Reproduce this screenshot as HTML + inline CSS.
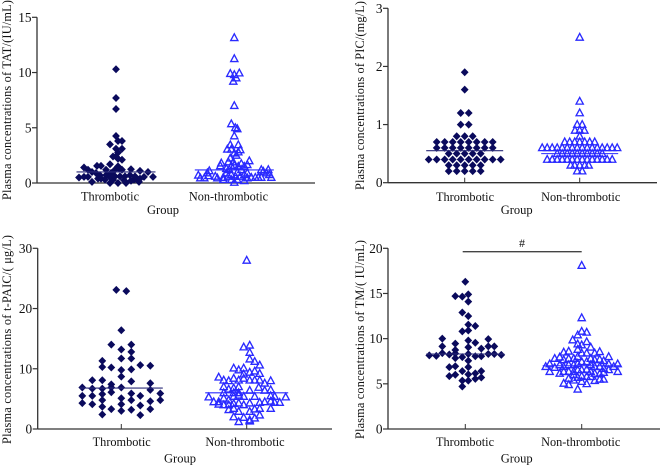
<!DOCTYPE html>
<html>
<head>
<meta charset="utf-8">
<title>Plasma concentrations by group</title>
<style>
html,body{margin:0;padding:0;background:#fff;}
svg{display:block;}
text{font-family:"Liberation Serif","Noto Serif CJK SC",serif;fill:#111;}
</style>
</head>
<body>
<svg id="figure" width="661" height="468" viewBox="0 0 661 468" xmlns="http://www.w3.org/2000/svg">
  <text transform="translate(11,200) rotate(-90)" font-size="12.3" textLength="200" lengthAdjust="spacing">Plasma concentrations of TAT/(IU/mL)</text>
  <text transform="translate(364,190) rotate(-90)" font-size="12.3" textLength="189" lengthAdjust="spacing">Plasma concentrations of PIC/(mg/L)</text>
  <text transform="translate(11,444) rotate(-90)" font-size="12.3" textLength="209" lengthAdjust="spacing">Plasma concentrations of t-PAIC/( μg/L)</text>
  <text transform="translate(364,439) rotate(-90)" font-size="12.3" textLength="199" lengthAdjust="spacing">Plasma concentrations of TM/( IU/mL)</text>
  <text x="163" y="214" font-size="12.5" text-anchor="middle">Group</text>
  <text x="516.7" y="214" font-size="12.5" text-anchor="middle">Group</text>
  <text x="180" y="462.7" font-size="12.5" text-anchor="middle">Group</text>
  <text x="516.7" y="462.7" font-size="12.5" text-anchor="middle">Group</text>
  <line x1="462.7" x2="581.7" y1="251.7" y2="251.7" stroke="#444" stroke-width="1.4"></line>
  <text x="522" y="247" font-size="12" text-anchor="middle">#</text>
</svg>
<script>
// Shared labels
const groupLabels = ["Thrombotic", "Non-thrombotic"];

// TAT panel
const tatTicks = [0, 5, 10, 15];
const tatMeans = [1.0, 1.18];
const tatThromboticValues = [10.3,7.7,6.7,4.25,3.8,3.8,3.5,3.1,3.1,2.75,2.4,2.4,2.2,2.1,1.7,1.5,
  1.4,1.2,1.55,1.55,1,.9,.7,.5,.55,.55,.1,.4,.4,.7,0,.3,.9,1.2,1.3,1.2,0,.6,.6,0,1.25,.7,.3,.1,1.1,.4,.55,1,.55,.6,.55,.3,.6,.25,.2,1.2];
const tatThromboticJitter = [0,0,0,0,2,6,-6,0,6,2,0,-3,2,6,-6,2,
  -32,-28,-19,-15,-24,-20,-16,-37,-32,-28,-24,-18,-15,-10,-6,-3,-5,-1,3,6,2,4,9,10,15,14,18,23,24,24,28,32,37,19,-6,-11,-1,8,15,-10];
const tatControlValues = [13.15,11.25,9.9,9.95,9.8,9.5,9.2,7,5.35,5,4.9,4.25,3.45,3.45,3.05,3.05,3,2.8,2.7,2.5,2.25,1.9,1.9,1.8,1.55,1.75,2,1.65,1.5,1.55,1.6,1.5,
  1.1,.9,.7,.45,.45,.65,.6,.45,.3,.9,1.2,.6,.75,.3,.05,.6,.95,.3,.6,1.2,.75,.2,.9,.45,.5,.5,.5,.5,1.2,1.05,.9,1.2,.75,.5,1.3,.5];
const tatControlJitter = [0,0,-4,5,0,2,-1,0,-3,1,3,0,-4,4,-7,-3,6,4,0,2,-4,-6,-1,-13,-14,7,15,13,10,-3,0,4,
  -25,-27,-36,-34,-30,-26,-19,-17,-11,-8,-5,-6,-3,-3,0,1,3,3,6,7,10,10,13,13,17,21,24,27,27,29,32,34,35,37,-8,-11];

// PIC panel
const picTicks = [0, 1, 2, 3];
const picMeans = [0.55, 0.5];
const picThromboticValues = [1.9,1.6,1.2,1.2,1,1,.8,.8,.8,
  .7,.7,.7,.7,.7,.7,.7,.7,
  .6,.6,.6,.6,.6,.6,.6,.6,
  .5,.5,.5,.5,.5,
  .4,.4,.4,.4,.4,.4,.4,.4,.4,.4,
  .3,.3,.3,.3,.3,
  .2,.2,.2,.2,.2];
const picThromboticJitter = [0,0,-4,4,-4,4,-8,0,8,
  -28,-20,-12,-4,4,12,20,28,
  -28,-20,-12,-4,4,12,20,28,
  -16,-8,0,8,16,
  -36,-28,-20,-12,-4,4,12,20,28,36,
  -16,-8,0,8,16,
  -16,-8,0,8,16];
const picControlValues = [2.5,1.4,1.2,1,1,.9,.9,.9,.8,
  .7,.7,.7,.7,.7,.7,.7,
  .6,.6,.6,.6,.6,.6,.6,.6,.6,.6,.6,.6,.6,.6,.6,.6,
  .5,.5,.5,.5,.5,.5,.5,.5,.5,.5,
  .4,.4,.4,.4,.4,.4,.4,.4,.4,.4,.4,.4,.4,.4,
  .3,.3,.3,.3,.3,
  .2,.2];
const picControlJitter = [0,0,0,-2.5,2.5,-4.7,0,4.7,0,
  -15,-10,-5,0,5,10,15,
  -37.5,-32.5,-27.5,-22.5,-17.5,-12.5,-7.5,-2.5,2.5,7.5,12.5,17.5,22.5,27.5,32.5,37.5,
  -22.5,-17.5,-12.5,-7.5,-2.5,2.5,7.5,12.5,17.5,22.5,
  -32.5,-27.5,-22.5,-17.5,-12.5,-7.5,-2.5,2.5,7.5,12.5,17.5,22.5,27.5,32.5,
  -9,-5,0,5,9,
  -2.5,2.5];

// t-PAIC panel
const tpaicTicks = [0, 10, 20, 30];
const tpaicMeans = [6.8, 6.0];
const tpaicThromboticValues = [23.1,22.9,16.4,14,14,13.2,12.8,11.7,11.7,11.3,10.3,10.2,10.6,10.5,9.8,9.9,8.7,8.1,8.1,7.9,7.4,6.9,7.6,6.9,6.7,6.7,6.9,6.5,6.1,5.9,5.5,5.5,5.8,5.9,5.5,5.1,4.8,4.8,4.6,4.8,4.3,4.1,4.1,3.9,3.7,3.3,3,3.2,3.3,2.4,2.3];
const tpaicThromboticJitter = [-5,5,0,-10,10,0,10,0,10,-19,-19,-10,19,29,0,10,0,-29,-19,10,-10,0,29,-39,-29,-19,-10,29,-10,39,-39,-29,-19,10,19,0,-19,10,29,39,-39,-29,0,19,-19,-10,0,10,29,-19,19];
const tpaicControlValues = [28,13.6,13.9,12.7,11.6,11.2,10.6,10.1,9.8,10.1,9.4,9.6,9.2,9.1,8.6,8.1,8,8.4,8.1,8.4,8.1,8.1,8.1,7.6,8,7,6.6,6.8,7,6,6,6,6.4,6.9,6.4,6.5,5.3,4.5,4.5,5.1,4.8,5.4,5.6,5.4,5.4,5.5,5.4,5.3,4.4,4.4,4.6,4.5,4.4,4,4,4.2,4.3,4,4.3,3.2,3.4,2.9,2.9,3.3,3.4,3.4,2,1.9,1.5,1.8,2.3,1.2,1.3,4.1];
const tpaicControlJitter = [0,-3,3,3,3,8,13,-13,-8,-3,3,8,13,-3,-28,-23,-18,-13,-8,-3,3,8,13,18,24,-23,-18,-13,-8,-23,-13,-8,3,12,18,24,-38,-33,-28,-23,-18,-13,-8,-3,8,24,28,39,33,28,24,18,13,-23,-18,-13,-8,-3,3,-18,-13,-8,3,8,13,24,-13,-3,3,8,13,-8,3,-28];

// TM panel
const tmTicks = [0, 5, 10, 15, 20];
const tmMeans = [8.3, 7.0];
const tmThromboticValues = [16.3,14.7,14.65,14.9,14.1,12.9,12.5,11.55,11.4,10.8,10.9,10,9.45,9.8,9.55,9.95,9.15,8.75,9.05,8.9,9.15,9.15,8.4,8.25,8.35,8.3,8.3,8.3,8.2,8.15,8.1,7.85,7.95,7.55,8.05,8.05,6.85,6.95,6.85,6.4,6.05,6.15,6.4,5.85,6,5.35,5.55,5.7,5.35,4.7];
const tmThromboticJitter = [0,-10,-3,3,3,-3,3,3,10,-3,3,-23,-10,3,10,23,-23,-10,3,16,23,29,-23,-16,-10,3,23,29,36,-36,-29,-10,-3,3,10,16,-16,-10,3,-3,3,10,16,-16,-10,3,10,16,-3,-3];
const tmControlValues = [18.1,12.3,10.8,10.7,10.4,9.85,9.4,9.3,9.65,9.05,8.6,8.4,8.55,8,8.8,8.5,7.95,7.8,7.2,6.9,7.65,7.8,7.8,8,8.4,8.4,7.8,7.65,7.7,7.55,7.2,7.2,6.9,6.35,6.35,6.8,7.1,6.9,7.1,7.1,7.25,7.45,7.45,7.1,6.9,6.9,6.7,6.55,6.15,6.35,6.35,6.35,6.55,6.55,6.6,6.35,6.15,6.1,6.25,5.05,5.6,5.4,5.7,5.25,5,5.8,5.35,5.5,5.5,4.4,5.85,6,5.8,4.9];
const tmControlJitter = [0,0,0,5,-4,-9,-4,0,5,9,-13,13,18,27,-4,-18,-22,-27,-32,-36,-18,-13,-8,-4,0,5,9,13,18,22,27,36,32,36,-32,-27,-22,-18,-13,-8,-4,0,5,9,13,18,22,27,-22,-18,-13,-8,-4,0,5,9,13,18,22,-18,-13,-8,-4,0,5,9,13,18,22,-4,0,-8,5,-13];

const SVG_NS = "http://www.w3.org/2000/svg";
const AXIS_COLOR = "#333";
const DIAMOND_COLOR = "#0a0a5c";
const TRIANGLE_COLOR = "#2a2aff";
const figure = document.getElementById("figure");

function make(tag, attrs) {
  const el = document.createElementNS(SVG_NS, tag);
  Object.keys(attrs).forEach(function (k) { el.setAttribute(k, attrs[k]); });
  figure.appendChild(el);
  return el;
}

function drawPanel(prefix, frame, ticks, means, series) {
  const maxTick = ticks[ticks.length - 1];
  const yScale = function (v) { return frame.y0 - (v / maxTick) * (frame.y0 - frame.yTop); };
  const xScale = function (groupIndex, jitter) { return frame.groups[groupIndex] + jitter; };

  const yAxis = make("line", {x1: frame.x0, x2: frame.x0, y1: frame.yTop, y2: frame.y0, stroke: AXIS_COLOR, "stroke-width": 1.3});
  
  
  const xAxis = make("line", {x1: frame.x0, x2: frame.x1, y1: frame.y0, y2: frame.y0, stroke: AXIS_COLOR, "stroke-width": 1.3});
  
  

  ticks.forEach(function (t) {
    const mark = make("line", {x1: frame.x0 - 5, x2: frame.x0, y1: yScale(t), y2: yScale(t), stroke: AXIS_COLOR, "stroke-width": 1.2});
    
    
    const label = make("text", {x: frame.x0 - 5.5, y: yScale(t) + 4.5, "font-size": 13.3, "text-anchor": "end"});
    
    
    label.textContent = t;
  });

  groupLabels.forEach(function (name, i) {
    const mark = make("line", {x1: xScale(i, 0), x2: xScale(i, 0), y1: frame.y0 - 5, y2: frame.y0, stroke: AXIS_COLOR, "stroke-width": 1});
    
    
    const label = make("text", {x: frame.labels[i], y: frame.labelY, "font-size": 12.3, "text-anchor": "middle"});
    
    
    label.textContent = name;
  });

  series.forEach(function (s, groupIndex) {
    const color = groupIndex === 0 ? DIAMOND_COLOR : TRIANGLE_COLOR;
    s.values.forEach(function (v, i) {
      const cx = xScale(groupIndex, s.jitter[i] || 0);
      const cy = yScale(v);
      let d;
      let attrs;
      if (groupIndex === 0) {
        d = "M" + cx + " " + (cy - 4) + "L" + (cx + 3.9) + " " + cy + "L" + cx + " " + (cy + 4) + "L" + (cx - 3.9) + " " + cy + "Z";
        attrs = {d: d, fill: color};
      } else {
        d = "M" + cx + " " + (cy - 3.9) + "L" + (cx + 3.6) + " " + (cy + 2.8) + "L" + (cx - 3.6) + " " + (cy + 2.8) + "Z";
        attrs = {d: d, fill: "none", stroke: color, "stroke-width": 1.35};
      }
      const point = make("path", attrs);
      
      
    });
    const meanLine = make("line", {
      x1: xScale(groupIndex, -frame.meanHalf), x2: xScale(groupIndex, frame.meanHalf),
      y1: yScale(means[groupIndex]), y2: yScale(means[groupIndex]),
      stroke: groupIndex === 0 ? "#2a2a78" : TRIANGLE_COLOR, "stroke-width": 1.1
    });
    
    
  });
}

drawPanel("tat",
  {x0: 37, x1: 315, y0: 183, yTop: 17.3, groups: [116, 234.3], labels: [110, 228.5], labelY: 200.5, meanHalf: 39.5},
  tatTicks, tatMeans,
  [{values: tatThromboticValues, jitter: tatThromboticJitter}, {values: tatControlValues, jitter: tatControlJitter}]);
drawPanel("pic",
  {x0: 388, x1: 657, y0: 182.7, yTop: 8.3, groups: [464.7, 579.7], labels: [465, 580.7], labelY: 201, meanHalf: 38.5},
  picTicks, picMeans,
  [{values: picThromboticValues, jitter: picThromboticJitter}, {values: picControlValues, jitter: picControlJitter}]);
drawPanel("tpaic",
  {x0: 37.7, x1: 332, y0: 429, yTop: 248.3, groups: [121.3, 246.7], labels: [121.7, 245], labelY: 446, meanHalf: 41.5},
  tpaicTicks, tpaicMeans,
  [{values: tpaicThromboticValues, jitter: tpaicThromboticJitter}, {values: tpaicControlValues, jitter: tpaicControlJitter}]);
drawPanel("tm",
  {x0: 388, x1: 660, y0: 429, yTop: 248.3, groups: [465.3, 581.7], labels: [465, 580.7], labelY: 446, meanHalf: 39},
  tmTicks, tmMeans,
  [{values: tmThromboticValues, jitter: tmThromboticJitter}, {values: tmControlValues, jitter: tmControlJitter}]);
</script>
</body>
</html>
